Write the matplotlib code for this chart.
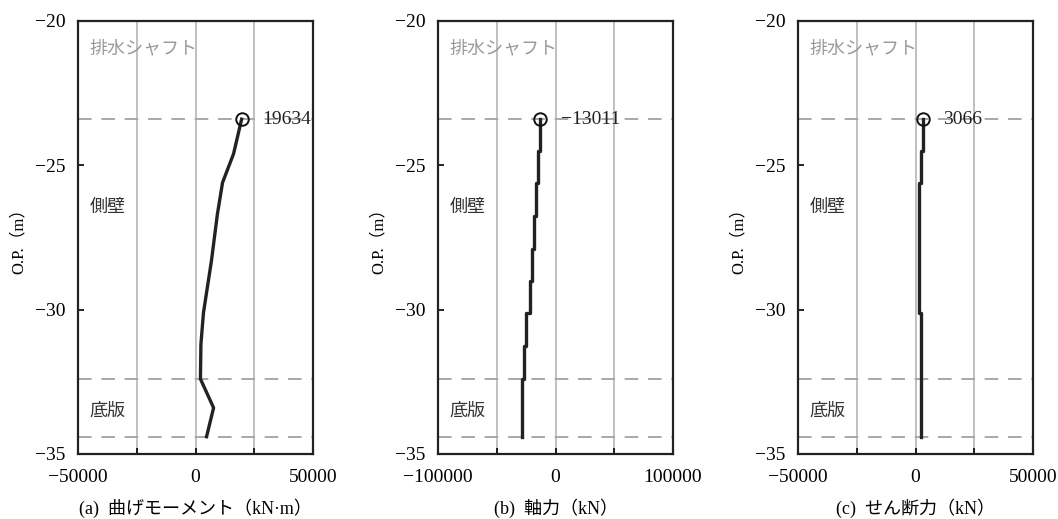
import matplotlib
matplotlib.use("Agg")
import matplotlib.pyplot as plt
from matplotlib.ticker import FixedLocator, FixedFormatter

plt.rcParams['font.family'] = ['Liberation Serif', 'Noto Sans CJK JP']
plt.rcParams['font.size'] = 13

# depth levels (O.P., m)
top_level = -23.4
slab_top = -32.4
slab_bottom = -34.4

# (a) bending moment
depth_a = [-23.4, -24.6, -25.6, -26.7, -28.3, -30.1, -31.2, -32.4, -33.4, -34.4]
moment = [19634, 16200, 11500, 9300, 6800, 3400, 2300, 2100, 7700, 4700]

# (b) axial force (stepped)
depth_b = [-23.4, -24.5, -24.5, -25.6, -25.6, -26.75, -26.75, -27.9, -27.9, -29.0,
           -29.0, -30.1, -30.1, -31.25, -31.25, -32.4, -32.4, -34.4]
axial = [-13011, -13011, -15100, -15100, -17000, -17000, -18500, -18500, -19800, -19800,
         -22100, -22100, -24900, -24900, -26400, -26400, -28300, -28300]

# (c) shear force (stepped)
depth_c = [-23.4, -24.5, -24.5, -25.6, -25.6, -30.1, -30.1, -34.4]
shear = [3066, 3066, 2400, 2400, 1400, 1400, 2400, 2400]

peak_labels = ['19634', '−13011', '3066']
titles = ['(a)  曲げモーメント（kN·m）', '(b)  軸力（kN）', '(c)  せん断力（kN）']
xticks_a = [-50000, -25000, 0, 25000, 50000]
xlabels_a = ['−50000', '', '0', '', '50000']
xticks_b = [-100000, -50000, 0, 50000, 100000]
xlabels_b = ['−100000', '', '0', '', '100000']
yticks = [-35, -30, -25, -20]
ylabels = ['−35', '−30', '−25', '−20']

fig = plt.figure(figsize=(10.58, 5.19), dpi=100)
lefts = [78, 438, 798]
panels = [
    (depth_a, moment, xticks_a, xlabels_a),
    (depth_b, axial, xticks_b, xlabels_b),
    (depth_c, shear, xticks_a, xlabels_a),
]

for i, (dep, val, xt, xl) in enumerate(panels):
    ax = fig.add_axes([lefts[i] / 1058, 65 / 519, 235 / 1058, 433 / 519])
    ax.set_xlim(xt[0], xt[-1])
    ax.set_ylim(-35, -20)
    ax.xaxis.set_major_locator(FixedLocator(xt))
    ax.xaxis.set_major_formatter(FixedFormatter(xl))
    ax.set_yticks(yticks)
    ax.set_yticklabels(ylabels)
    ax.grid(axis='x', color='#b5b5b5', lw=1.2)
    ax.set_axisbelow(True)
    ax.tick_params(direction='in', length=4, width=1.2, pad=11, labelsize=14)
    ax.tick_params(axis='y', pad=9)
    for s in ax.spines.values():
        s.set_linewidth(1.6)
        s.set_color('#222222')

    for lv in [top_level, slab_top, slab_bottom]:
        ax.axhline(lv, color='#a8a8a8', lw=1.4, dashes=(7, 5))

    ax.plot(val, dep, color='#222222', lw=2.4, solid_joinstyle='round')
    ax.plot([val[0]], [dep[0]], 'o', ms=9, mfc='none', mec='#111111', mew=1.4)
    ax.annotate(peak_labels[i], (val[0], dep[0]), xytext=(15, 0),
                textcoords='offset points', va='center', ha='left', fontsize=14,
                color='#222222')

    ax.text(0.05, 0.935, '排水シャフト', transform=ax.transAxes, color='#999999',
            fontsize=13, va='center')
    ax.text(0.05, 0.57, '側壁', transform=ax.transAxes, color='#333333',
            fontsize=13, va='center')
    ax.text(0.05, 0.10, '底版', transform=ax.transAxes, color='#333333',
            fontsize=13, va='center')

    ax.set_ylabel('O.P.（m）', fontsize=12, labelpad=6)
    ax.set_xlabel(titles[i], fontsize=13, labelpad=9)

fig.savefig('out.png', dpi=100)
